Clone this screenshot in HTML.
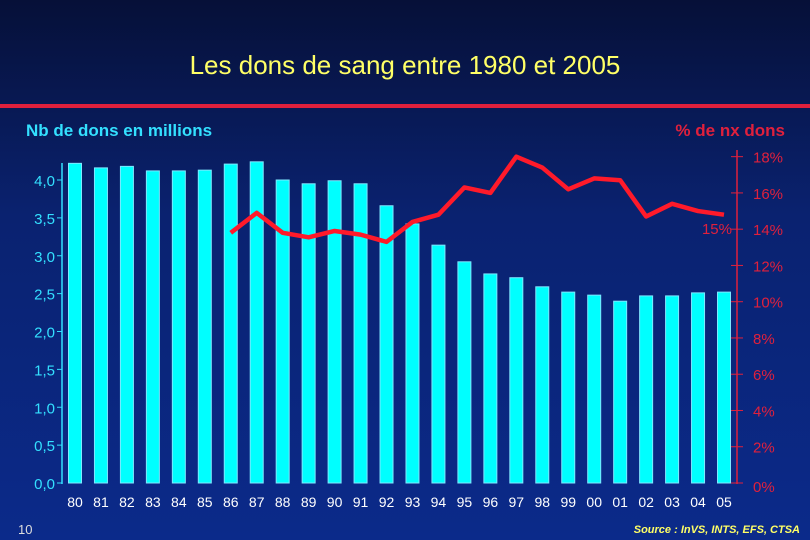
<!DOCTYPE html>
<html><head><meta charset="utf-8"><style>
body{margin:0;width:810px;height:540px;overflow:hidden;background:linear-gradient(#061038 0%,#0a2270 40%,#0b2a8a 100%);font-family:"Liberation Sans",sans-serif}
svg{position:absolute;left:0;top:0}
</style></head><body>
<svg width="810" height="540" id="c">
<text x="405" y="74" text-anchor="middle" fill="#ffff66" font-size="26">Les dons de sang entre 1980 et 2005</text>
<rect x="0" y="104" width="810" height="4" fill="#e0203c"/>
<text x="26" y="136" fill="#33e0ff" font-size="17" font-weight="bold">Nb de dons en millions</text>
<text x="785" y="136" text-anchor="end" fill="#e0203c" font-size="17" font-weight="bold">% de nx dons</text>
<text x="18" y="534" fill="#ddd" font-size="13">10</text>
<text x="800" y="533" text-anchor="end" fill="#ffff66" font-size="11" font-style="italic" font-weight="bold">Source : InVS, INTS, EFS, CTSA</text>
</svg>
<script>
const years=["80","81","82","83","84","85","86","87","88","89","90","91","92","93","94","95","96","97","98","99","00","01","02","03","04","05"];
const dons=[4.22,4.16,4.18,4.12,4.12,4.13,4.21,4.24,4.0,3.95,3.99,3.95,3.66,3.42,3.14,2.92,2.76,2.71,2.59,2.52,2.48,2.40,2.47,2.47,2.51,2.52];
const pctYears=["86","87","88","89","90","91","92","93","94","95","96","97","98","99","00","01","02","03","04","05"];
const pct=[13.8,14.9,13.8,13.55,13.9,13.7,13.3,14.4,14.8,16.3,16.0,18.0,17.4,16.2,16.8,16.7,14.7,15.4,15.0,14.8];
const leftTicks=["0,0","0,5","1,0","1,5","2,0","2,5","3,0","3,5","4,0"];
const rightTicks=["0%","2%","4%","6%","8%","10%","12%","14%","16%","18%"];
const svg=document.getElementById('c');const NS='http://www.w3.org/2000/svg';
function mk(t,a,txt){const e=document.createElementNS(NS,t);for(const k in a)e.setAttribute(k,a[k]);if(txt!=null)e.textContent=txt;svg.appendChild(e);return e;}
const x=i=>75+i*25.96, yL=v=>483-v*75.75, yR=v=>483-v*18.13;
mk('line',{x1:62,y1:163,x2:62,y2:484,stroke:'#33e0ff','stroke-width':1.5});
leftTicks.forEach((t,i)=>{const y=yL(i*0.5);
const l=mk('line',{x1:57,y1:y,x2:62,y2:y,stroke:'#33e0ff'});


const e=mk('text',{x:55,y:y+6,'text-anchor':'end',fill:'#33e0ff','font-size':15},t);

});
mk('line',{x1:737,y1:150,x2:737,y2:484,stroke:'#e0203c','stroke-width':1.5});
rightTicks.forEach((t,i)=>{const y=yR(i*2);
const l=mk('line',{x1:731,y1:y,x2:743,y2:y,stroke:'#e0203c'});


const e=mk('text',{x:753,y:y+(i==0?9:6),fill:'#e0203c','font-size':15},t);

});
dons.forEach((v,i)=>{
const r=mk('rect',{x:x(i)-6.5,y:yL(v),width:13,height:483-yL(v),fill:'#00ffff',stroke:'#7fe8ff','stroke-width':1});


const t=mk('text',{x:x(i),y:507,'text-anchor':'middle',fill:'#fff','font-size':14},years[i]);

});
const pts=pct.map((v,i)=>x(years.indexOf(pctYears[i]))+','+yR(v)).join(' ');
const pl=mk('polyline',{points:pts,fill:'none',stroke:'#ff1a2a','stroke-width':4.5,'stroke-linejoin':'round'});


const lb=mk('text',{x:732,y:234,'text-anchor':'end',fill:'#e0203c','font-size':15},String(Math.round(pct[pct.length-1]+0.2))+'%');


</script>
</body></html>
